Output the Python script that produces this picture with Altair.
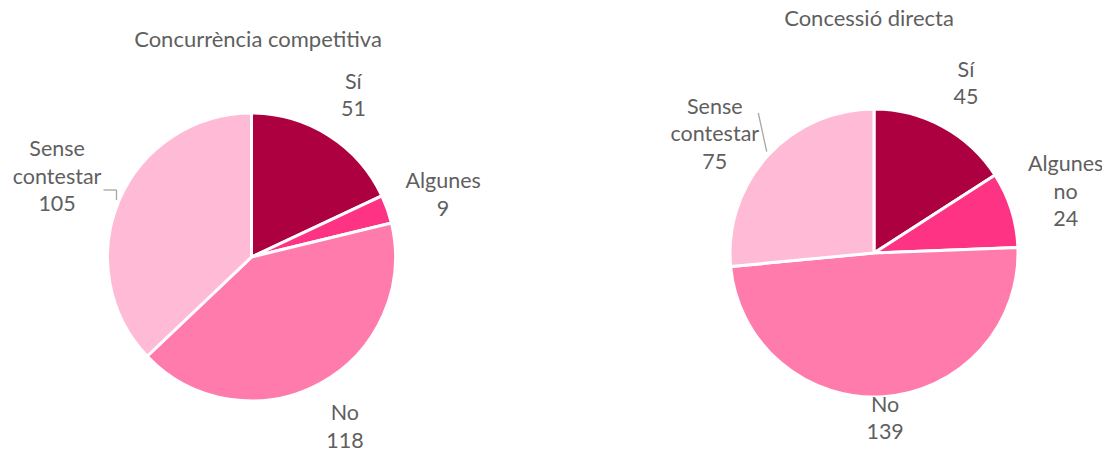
import altair as alt
import pandas as pd

# ---- data ----
categories_left = ["Sí", "Algunes", "No", "Sense contestar"]
values_left = [51, 9, 118, 105]
categories_right = ["Sí", "Algunes no", "No", "Sense contestar"]
values_right = [45, 24, 139, 75]
titles = ["Concurrència competitiva", "Concessió directa"]

colors = ["#AD0040", "#FF3384", "#FF7BAC", "#FFBAD6"]
FONT = "Lato"
TXT = "#5f5f5f"

W, H = 1094, 442
R = 144
LH = 27.5


def make_df(cats, vals):
    return pd.DataFrame({
        "idx": list(range(len(cats))),
        "cat": cats,
        "value": vals,
        "label": [c.replace(" ", "\n") + "\n" + str(v) for c, v in zip(cats, vals)],
    })


def pie(df, cx, cy, radius_expr, shift_expr):
    arcs = alt.Chart(df).mark_arc(outerRadius=R, stroke="white", strokeWidth=3).encode(
        theta=alt.Theta("value:Q", stack=True),
        order=alt.Order("idx:Q"),
        x=alt.value(cx),
        y=alt.value(cy),
        color=alt.Color("idx:N", scale=alt.Scale(domain=[0, 1, 2, 3], range=colors), legend=None),
    )
    labels = alt.Chart(df).transform_joinaggregate(
        total="sum(value)"
    ).transform_window(
        cum="sum(value)", sort=[alt.SortField("idx")], frame=[None, 0]
    ).transform_calculate(
        ang=f"2 * PI * (datum.cum - datum.value / 2) / datum.total + ({shift_expr}) * PI / 180",
        lr=radius_expr,
        yy=f"{cy} - (split(datum.label, '\\n').length - 1) * {LH} / 2",
    ).mark_text(
        lineBreak="\n", font=FONT, fontSize=21.5, color=TXT,
        align="center", baseline="middle", lineHeight=LH,
    ).encode(
        text="label:N",
        x=alt.value(cx),
        y=alt.Y("yy:Q", scale=None),
        theta=alt.Theta("ang:Q", scale=None),
        radius=alt.Radius("lr:Q", scale=None),
    )
    return alt.layer(arcs, labels).resolve_scale(theta="independent")


left = pie(make_df(categories_left, values_left), 243.5, 249,
           "datum.idx == 0 ? 190 : datum.idx == 1 ? 201 : datum.idx == 2 ? 195 : 210",
           "datum.idx == 1 ? 1.8 : datum.idx == 3 ? -1.0 : 0")
right = pie(make_df(categories_right, values_right), 866, 245,
            "datum.idx == 0 ? 192 : datum.idx == 1 ? 201 : datum.idx == 2 ? 167 : 198",
            "datum.idx == 3 ? -5.8 : 0")

title_df = pd.DataFrame({"t": titles})
t_left = alt.Chart(title_df).transform_filter(alt.datum.t == titles[0]).mark_text(
    font=FONT, fontSize=22, color=TXT, align="center", baseline="middle"
).encode(text="t:N", x=alt.value(250), y=alt.value(32))
t_right = alt.Chart(title_df).transform_filter(alt.datum.t == titles[1]).mark_text(
    font=FONT, fontSize=22, color=TXT, align="center", baseline="middle"
).encode(text="t:N", x=alt.value(861), y=alt.value(10.5))

lead_style = dict(color="#a6a6a6", strokeWidth=1.3)
ref = alt.Chart(pd.DataFrame({"a": [0]}))
lead1 = ref.mark_rule(**lead_style).encode(x=alt.value(95.5), x2=alt.value(108.5), y=alt.value(182), y2=alt.value(182))
lead2 = ref.mark_rule(**lead_style).encode(x=alt.value(108.5), x2=alt.value(108.5), y=alt.value(182), y2=alt.value(192))
lead3 = ref.mark_rule(**lead_style).encode(x=alt.value(750.3), x2=alt.value(758.7), y=alt.value(105), y2=alt.value(143.7))

chart = alt.layer(lead1, lead2, lead3, left, right, t_left, t_right).resolve_scale(
    theta="independent"
).properties(
    width=W, height=H, padding=0, autosize=alt.AutoSizeParams(type="none")
).configure_view(stroke=None)

chart.save("out.html", embed_options={"renderer": "svg", "actions": False})
